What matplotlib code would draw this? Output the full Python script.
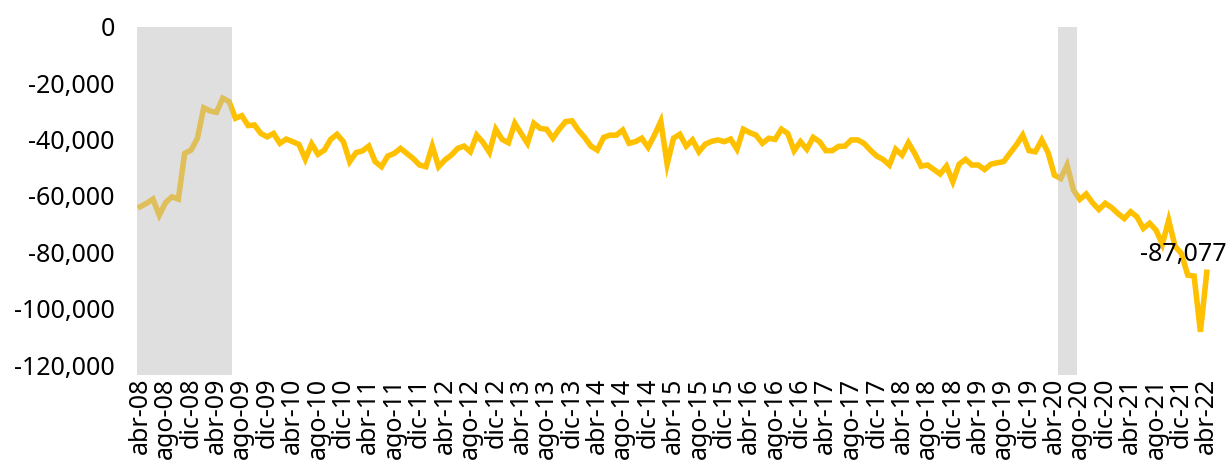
import matplotlib
matplotlib.use('Agg')
import matplotlib.pyplot as plt
from matplotlib.ticker import FuncFormatter

plt.rcParams['font.family'] = ['Noto Sans', 'DejaVu Sans']

# monthly values, abr-08 .. abr-22
vals_2008 = [-63800, -62600, -61100, -66800, -62300, -60300, -61100, -44900, -43700]
vals_2009 = [-39600, -28700, -29800, -30300, -25300, -26500, -32400, -31500, -35000, -34800, -37800, -39000]
vals_2010 = [-37800, -41300, -39800, -40700, -41700, -46900, -41500, -45200, -43700, -39900, -38100, -40700]
vals_2011 = [-47800, -44600, -44000, -42300, -47800, -49600, -45800, -44900, -43100, -44900, -46700, -49000]
vals_2012 = [-49600, -42300, -49600, -47200, -45500, -43100, -42300, -44300, -38400, -41000, -44500, -36300]
vals_2013 = [-39900, -41100, -34200, -37800, -41300, -34200, -36000, -36300, -39500, -36300, -33600, -33300]
vals_2014 = [-36600, -39200, -42300, -43700, -39200, -38400, -38400, -36600, -41300, -40700, -39500, -42700]
vals_2015 = [-38400, -33500, -48700, -39500, -38100, -42300, -40100, -44300, -41600, -40600, -40100, -40700]
vals_2016 = [-39800, -43400, -36300, -37500, -38400, -41300, -39500, -39900, -36300, -37800, -43900, -40700]
vals_2017 = [-43400, -39200, -40700, -43900, -43900, -42400, -42300, -40100, -40100, -41300, -43700, -45800]
vals_2018 = [-47000, -49000, -43400, -45500, -41100, -44900, -49400, -49000, -50600, -52200, -49400, -54900]
vals_2019 = [-48700, -47000, -49000, -49000, -50600, -48700, -48200, -47800, -44800, -41900, -38400, -43900]
vals_2020 = [-44300, -40100, -44600, -52600, -53800, -49000, -57900, -61200, -59300, -62400, -64800, -62600]
vals_2021 = [-64100, -66200, -68000, -65600, -67400, -71500, -69700, -72100, -77100, -68600, -77800, -80400]
vals_2022 = [-88100, -88400, -108200, -87077]

month_names = ['ene', 'feb', 'mar', 'abr', 'may', 'jun',
               'jul', 'ago', 'sep', 'oct', 'nov', 'dic']
recessions = [('abr-08', 'jun-09'), ('may-20', 'jul-20')]
last_label = '-87,077'

values = (vals_2008 + vals_2009 + vals_2010 + vals_2011 + vals_2012 + vals_2013
          + vals_2014 + vals_2015 + vals_2016 + vals_2017 + vals_2018 + vals_2019
          + vals_2020 + vals_2021 + vals_2022)

# build category labels abr-08 .. abr-22
months = []
m, y = 3, 8
for _ in values:
    months.append(f'{month_names[m]}-{y:02d}')
    m += 1
    if m == 12:
        m, y = 0, y + 1

x = list(range(len(values)))

fig = plt.figure(figsize=(12.28, 4.65), dpi=100)
ax = fig.add_axes([0.1116, 0.215, 0.8737, 0.727])

ax.plot(x, values, color='#FFC000', lw=4.0, solid_joinstyle='miter', zorder=2)

# recession shading drawn over the line
for start, end in recessions:
    i0, i1 = months.index(start), months.index(end)
    ax.bar(range(i0, i1 + 1), [123500] * (i1 - i0 + 1), bottom=-123500,
           width=1.0, color='#BEBEBE', alpha=0.48, lw=0, zorder=3, clip_on=False)

ax.annotate(last_label, (x[-1], values[-1]), xytext=(-23, 18),
            textcoords='offset pixels', ha='center', va='center',
            fontsize=18, color='black', zorder=4, annotation_clip=False)

ax.set_xlim(-0.5, len(values) - 0.5)
ax.set_ylim(-120000, 0)
ax.set_yticks(range(-120000, 1, 20000))
ax.yaxis.set_major_formatter(FuncFormatter(lambda v, p: f'{int(v):,}'))
ax.set_xticks(x[::4])
ax.set_xticklabels(months[::4], rotation=90)

ax.tick_params(axis='y', length=0, pad=16, labelsize=18)
ax.tick_params(axis='x', length=0, pad=9, labelsize=18)
for s in ax.spines.values():
    s.set_visible(False)

fig.savefig('out.png', dpi=100)
